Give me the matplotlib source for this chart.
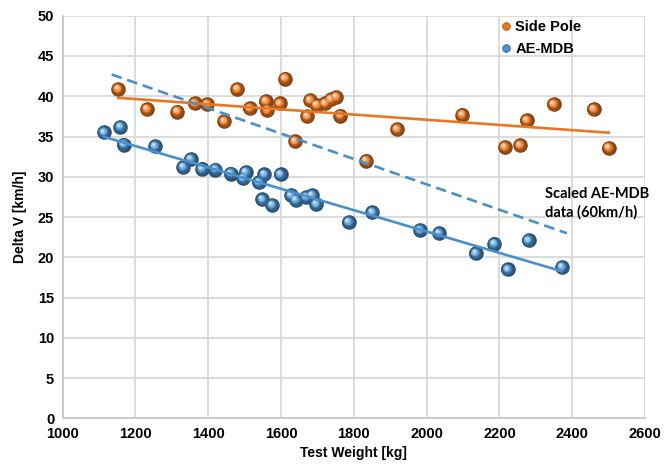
import numpy as np
import matplotlib.pyplot as plt
from matplotlib.transforms import ScaledTranslation
from matplotlib.lines import Line2D
from matplotlib.colors import to_rgb

# Side Pole tests: test weight [kg] and delta V [km/h]
pole_weight = [1153, 1232, 1315, 1363, 1398, 1444, 1480, 1514, 1558, 1563, 1597, 1611,
               1639, 1672, 1680, 1698, 1721, 1737, 1752, 1763, 1834, 1919, 2098, 2215,
               2257, 2275, 2349, 2459, 2500]
pole_dv = [40.9, 38.4, 38.1, 39.1, 39.0, 36.9, 40.9, 38.5, 39.4, 38.3, 39.1, 42.2,
           34.4, 37.5, 39.5, 38.9, 39.1, 39.6, 39.9, 37.6, 32.0, 35.9, 37.7, 33.7,
           33.9, 37.0, 39.0, 38.4, 33.6]

# AE-MDB tests
mdb_weight = [1114, 1159, 1168, 1254, 1332, 1352, 1383, 1420, 1462, 1496, 1503, 1539,
              1549, 1554, 1576, 1599, 1628, 1641, 1669, 1685, 1697, 1786, 1851, 1982,
              2034, 2135, 2186, 2223, 2280, 2372]
mdb_dv = [35.5, 36.2, 34.0, 33.8, 31.2, 32.2, 31.0, 30.9, 30.4, 29.8, 30.6, 29.3,
          27.2, 30.3, 26.5, 30.3, 27.7, 27.1, 27.5, 27.7, 26.6, 24.4, 25.6, 23.4,
          23.0, 20.5, 21.7, 18.5, 22.1, 18.8]

# AE-MDB trend scaled to 60 km/h
scaled_weight = [1135, 2385]
scaled_dv = [42.7, 23.0]

x_ticks = list(range(1000, 2601, 200))
y_ticks = list(range(0, 51, 5))

orange = '#E87722'
blue = '#4A90CC'

fig = plt.figure(figsize=(6.68, 4.68), dpi=100)
ax = fig.add_axes([0.0936, 0.1058, 0.872, 0.8607])
ax.set_xlim(1000, 2600)
ax.set_ylim(0, 50)
ax.set_xticks(x_ticks)
ax.set_yticks(y_ticks)
ax.grid(True, color='#D9D9D9', linewidth=1.3)
ax.set_axisbelow(True)
for s in ['top', 'right']:
    ax.spines[s].set_visible(False)
for s in ['left', 'bottom']:
    ax.spines[s].set_color('#C8C8C8')
    ax.spines[s].set_linewidth(1.3)
ax.tick_params(length=0, pad=6)
for lab in ax.get_xticklabels() + ax.get_yticklabels():
    lab.set_fontfamily('Liberation Sans')
    lab.set_fontweight('bold')
    lab.set_fontsize(10.5)
ax.set_xlabel('Test Weight [kg]', fontfamily='Liberation Sans', fontweight='bold',
              fontsize=10, labelpad=4)
ax.set_ylabel('Delta V [km/h]', fontfamily='Liberation Sans', fontweight='bold',
              fontsize=10, labelpad=8)


def sphere(x, y, color, size=110, z=3):
    # shaded ball: dark rim, then lighter discs shifted to the upper left
    base = np.array(to_rgb(color))
    dark = base * 0.55
    light = base + (1 - base) * 0.75
    n = 9
    for i in range(n):
        t = i / (n - 1)
        c = dark * (1 - t) + base * t if t < 0.5 else base * (1 - (t - 0.5) * 2) + light * (t - 0.5) * 2
        c = np.clip(c, 0, 1)
        sz = size * (1 - 0.85 * t) ** 2
        off = ScaledTranslation(-1.6 * t / 72, 1.6 * t / 72, fig.dpi_scale_trans)
        ax.scatter(x, y, s=sz, color=c, linewidths=0, zorder=z + i * 0.01,
                   transform=ax.transData + off)


sphere(pole_weight, pole_dv, orange)
sphere(mdb_weight, mdb_dv, blue)

# linear trend lines over each data set
for xs, ys, col in [(pole_weight, pole_dv, orange), (mdb_weight, mdb_dv, blue)]:
    k, b = np.polyfit(xs, ys, 1)
    xx = np.array([min(xs), max(xs)])
    ax.plot(xx, k * xx + b, color=col, linewidth=1.9, zorder=4)

ax.plot(scaled_weight, scaled_dv, color=blue, linewidth=1.9, linestyle=(0, (4, 2.2)), zorder=4)

ax.text(2325, 28.7, 'Scaled AE-MDB\ndata (60km/h)', fontfamily='Lato', fontweight='bold',
        fontsize=10.5, linespacing=1.35, va='top', ha='left', zorder=5)

handles = [Line2D([], [], marker='o', linestyle='none', markersize=5.5, color=orange,
                  markeredgecolor='#B0540E', markeredgewidth=0.6),
           Line2D([], [], marker='o', linestyle='none', markersize=5.5, color=blue,
                  markeredgecolor='#2C6A9E', markeredgewidth=0.6)]
leg = ax.legend(handles, ['Side Pole', 'AE-MDB'], loc='upper left',
                bbox_to_anchor=(0.732, 1.022), frameon=False, handlelength=0.6,
                handletextpad=0.3, labelspacing=0.55,
                prop={'family': 'Liberation Sans', 'weight': 'bold', 'size': 10.5})

fig.savefig('out.png', dpi=100)
